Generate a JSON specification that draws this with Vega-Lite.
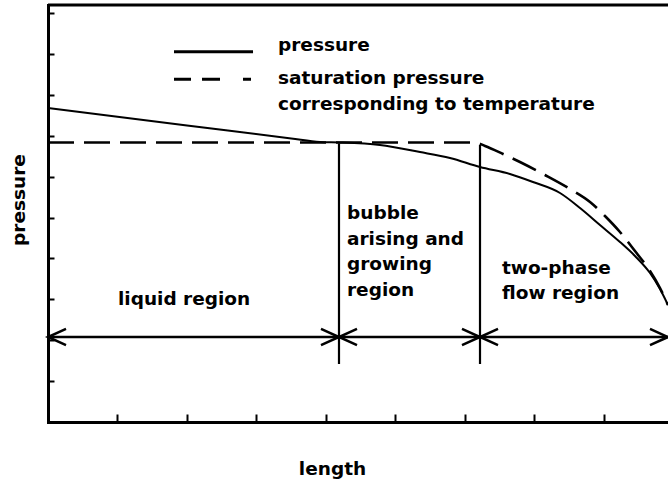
{
  "$schema": "https://vega.github.io/schema/vega-lite/v6.json",
  "width": 620,
  "height": 417,
  "autosize": {"type": "none"},
  "padding": {"left": 48, "top": 5, "right": 0, "bottom": 63},
  "background": "white",
  "config": {
    "view": {"stroke": null},
    "axis": {
      "grid": false,
      "labels": false,
      "domain": true,
      "domainColor": "black",
      "domainWidth": 3,
      "domainCap": "square",
      "tickColor": "black",
      "tickWidth": 2,
      "titleFont": "DejaVu Sans",
      "titleFontWeight": "bold",
      "titleFontSize": 18.5,
      "titleColor": "black"
    }
  },
  "datasets": {
    "pressure": [
      {"x": 0, "y": 7.677}, {"x": 2, "y": 7.252}, {"x": 3.5, "y": 6.934}, {"x": 3.914, "y": 6.846},
      {"x": 4.201, "y": 6.834}, {"x": 4.777, "y": 6.773}, {"x": 5.353, "y": 6.601}, {"x": 5.784, "y": 6.455},
      {"x": 6.216, "y": 6.235}, {"x": 6.647, "y": 6.064}, {"x": 6.978, "y": 5.868}, {"x": 7.367, "y": 5.599},
      {"x": 7.655, "y": 5.232}, {"x": 7.942, "y": 4.817}, {"x": 8.23, "y": 4.401}, {"x": 8.446, "y": 4.059},
      {"x": 8.662, "y": 3.643}, {"x": 8.806, "y": 3.252}, {"x": 8.921, "y": 2.861}
    ],
    "saturation": [
      {"x": 0, "y": 6.834}, {"x": 6.144, "y": 6.834}, {"x": 6.288, "y": 6.748}, {"x": 6.547, "y": 6.553},
      {"x": 6.791, "y": 6.357}, {"x": 7.151, "y": 6.039}, {"x": 7.511, "y": 5.697}, {"x": 7.799, "y": 5.379},
      {"x": 8.014, "y": 5.037}, {"x": 8.23, "y": 4.645}, {"x": 8.446, "y": 4.181}, {"x": 8.662, "y": 3.692},
      {"x": 8.806, "y": 3.276}, {"x": 8.921, "y": 2.861}
    ],
    "boundaries": [
      {"x": 4.187, "y": 6.81, "y2": 1.418},
      {"x": 6.216, "y": 6.773, "y2": 1.418}
    ],
    "span": [{"x": 0, "x2": 8.921, "y": 2.078}],
    "arrows": [
      {"x": 0, "y": 2.078, "dir": "L"},
      {"x": 4.187, "y": 2.078, "dir": "R"},
      {"x": 4.187, "y": 2.078, "dir": "L"},
      {"x": 6.216, "y": 2.078, "dir": "R"},
      {"x": 6.216, "y": 2.078, "dir": "L"},
      {"x": 8.921, "y": 2.078, "dir": "R"}
    ],
    "labels": [
      {"x": 1.007, "y": 2.861, "label": "liquid region"},
      {"x": 4.302, "y": 4.963, "label": "bubble\narising and\ngrowing\nregion"},
      {"x": 6.532, "y": 3.619, "label": "two-phase\nflow region"},
      {"x": 3.309, "y": 9.071, "label": "pressure"},
      {"x": 3.309, "y": 8.264, "label": "saturation pressure\ncorresponding to temperature"}
    ],
    "legendSolid": [{"x": 1.813, "x2": 2.95, "y": 9.054}],
    "legendDashed": [{"x": 1.813, "x2": 2.921, "y": 8.379}],
    "frameTop": [{"y": 10.196}]
  },
  "layer": [
    {
      "data": {"name": "pressure"},
      "mark": {"type": "line", "color": "black", "strokeWidth": 2, "interpolate": "monotone"},
      "encoding": {
        "x": {
          "field": "x", "type": "quantitative",
          "scale": {"domain": [0, 8.921], "nice": false, "zero": false},
          "axis": {
            "title": "length", "values": [1, 2, 3, 4, 5, 6, 7, 8], "tickSize": -8,
            "titleX": 284, "titleY": 52, "titleAlign": "center", "titleBaseline": "alphabetic"
          }
        },
        "y": {
          "field": "y", "type": "quantitative",
          "scale": {"domain": [0, 10.196], "nice": false, "zero": false},
          "axis": {
            "title": "pressure", "values": [1, 2, 3, 4, 5, 6, 7, 8, 9, 10], "tickSize": -6,
            "titleAngle": -90, "titleX": -24, "titleY": 194.5, "titleAlign": "center", "titleBaseline": "alphabetic"
          }
        }
      }
    },
    {
      "data": {"name": "saturation"},
      "mark": {"type": "line", "color": "black", "strokeWidth": 2.6, "strokeDash": [26, 10], "interpolate": "monotone"},
      "encoding": {
        "x": {"field": "x", "type": "quantitative"},
        "y": {"field": "y", "type": "quantitative"}
      }
    },
    {
      "data": {"name": "frameTop"},
      "mark": {"type": "rule", "color": "black", "strokeWidth": 3},
      "encoding": {
        "y": {"field": "y", "type": "quantitative"}
      }
    },
    {
      "data": {"name": "boundaries"},
      "mark": {"type": "rule", "color": "black", "strokeWidth": 2.2},
      "encoding": {
        "x": {"field": "x", "type": "quantitative"},
        "y": {"field": "y", "type": "quantitative"},
        "y2": {"field": "y2"}
      }
    },
    {
      "data": {"name": "span"},
      "mark": {"type": "rule", "color": "black", "strokeWidth": 2.6},
      "encoding": {
        "x": {"field": "x", "type": "quantitative"},
        "x2": {"field": "x2"},
        "y": {"field": "y", "type": "quantitative"}
      }
    },
    {
      "data": {"name": "arrows"},
      "mark": {"type": "point", "filled": false, "color": "black", "strokeWidth": 2.5, "size": 1296, "opacity": 1},
      "encoding": {
        "x": {"field": "x", "type": "quantitative"},
        "y": {"field": "y", "type": "quantitative"},
        "shape": {
          "field": "dir", "type": "nominal", "legend": null,
          "scale": {"domain": ["L", "R"], "range": ["M1,-0.45L0,0L1,0.45", "M-1,-0.45L0,0L-1,0.45"]}
        }
      }
    },
    {
      "data": {"name": "legendSolid"},
      "mark": {"type": "rule", "color": "black", "strokeWidth": 3},
      "encoding": {
        "x": {"field": "x", "type": "quantitative"},
        "x2": {"field": "x2"},
        "y": {"field": "y", "type": "quantitative"}
      }
    },
    {
      "data": {"name": "legendDashed"},
      "mark": {"type": "rule", "color": "black", "strokeWidth": 3, "strokeDash": [17, 11, 18, 23, 8, 100]},
      "encoding": {
        "x": {"field": "x", "type": "quantitative"},
        "x2": {"field": "x2"},
        "y": {"field": "y", "type": "quantitative"}
      }
    },
    {
      "data": {"name": "labels"},
      "mark": {
        "type": "text", "font": "DejaVu Sans", "fontWeight": "bold", "fontSize": 18.5,
        "color": "black", "align": "left", "baseline": "alphabetic", "lineBreak": "\n", "lineHeight": 25.5
      },
      "encoding": {
        "x": {"field": "x", "type": "quantitative"},
        "y": {"field": "y", "type": "quantitative"},
        "text": {"field": "label"}
      }
    }
  ]
}
